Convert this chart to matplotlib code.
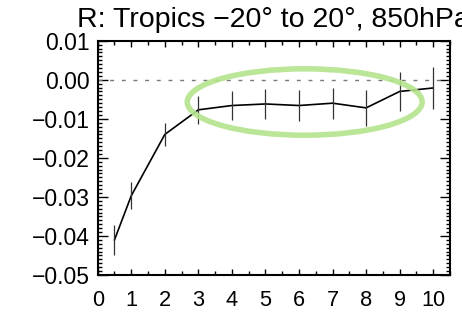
import matplotlib.pyplot as plt
from matplotlib.patches import Ellipse
from matplotlib.ticker import MultipleLocator

plt.rcParams['font.family'] = ['Liberation Sans', 'DejaVu Sans']

# 数据
lags = [0.5, 1, 2, 3, 4, 5, 6, 7, 8, 9, 10]
r_mean = [-0.041, -0.0297, -0.014, -0.0077, -0.0066, -0.0062, -0.0066, -0.006, -0.0072, -0.003, -0.0021]
r_err = [0.0038, 0.0034, 0.003, 0.0036, 0.0038, 0.0038, 0.004, 0.004, 0.0047, 0.005, 0.0053]
x_ticks = [0, 1, 2, 3, 4, 5, 6, 7, 8, 9, 10]
y_ticks = [0.01, 0.0, -0.01, -0.02, -0.03, -0.04, -0.05]
title = "R: Tropics \u221220\u00b0 to 20\u00b0, 850hPa"

fig = plt.figure(figsize=(4.62, 3.17), dpi=100)
ax = fig.add_axes([0.2115, 0.1325, 0.7625, 0.7391])

# 零线
ax.axhline(0, color='#777777', lw=1.0, dashes=(2.8, 5.6))

# 曲线和误差棒
ax.plot(lags, r_mean, color='black', lw=1.2, zorder=3)
ax.errorbar(lags, r_mean, yerr=r_err, fmt='none', ecolor='#333333', elinewidth=0.9, capsize=0, zorder=3)

# 绿色椭圆
ell = Ellipse((6.17, -0.0057), width=7.0, height=0.017, fill=False,
              edgecolor='#b5e48c', lw=4, alpha=0.9, zorder=4)
ax.add_patch(ell)

ax.set_xlim(0, 10.5)
ax.set_ylim(-0.05, 0.01)
ax.set_xticks(x_ticks)
ax.set_yticks(y_ticks)
ax.set_yticklabels([('%.2f' % v).replace('-', '\u2212') for v in y_ticks])
ax.xaxis.set_minor_locator(MultipleLocator(0.5))
ax.yaxis.set_minor_locator(MultipleLocator(0.001))
ax.tick_params(which='both', direction='in', top=True, right=True, width=1)
ax.tick_params(axis='x', which='major', length=4, pad=11, labelsize=15.7)
ax.tick_params(axis='y', which='major', length=7, pad=5.5, labelsize=16.5)
ax.tick_params(which='minor', length=3)
for s in ax.spines.values():
    s.set_linewidth(1.5)

ax.set_title(title, fontsize=20.5, pad=10)

plt.savefig('out.png', dpi=100)
